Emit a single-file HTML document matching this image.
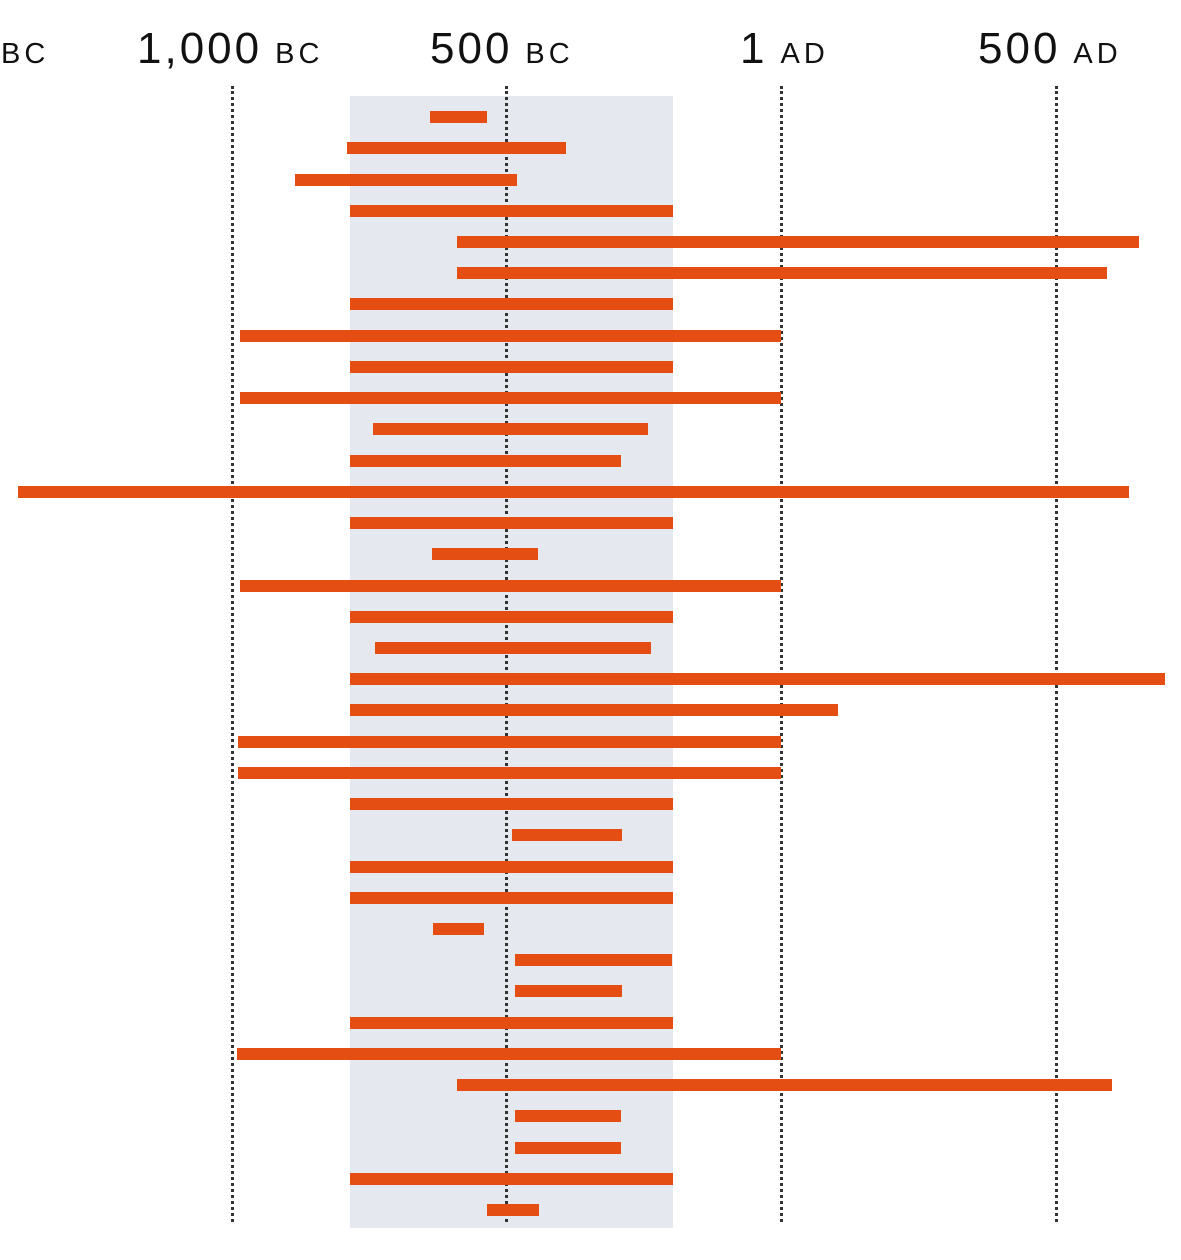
<!DOCTYPE html>
<html><head><meta charset="utf-8"><style>
html,body{margin:0;padding:0;background:#fff;}
body{width:1181px;height:1260px;position:relative;overflow:hidden;font-family:"Liberation Sans",sans-serif;color:#111;}
.lab{position:absolute;top:24px;white-space:nowrap;font-size:44px;line-height:50px;letter-spacing:3px}
.lab span{font-size:29px;letter-spacing:4px;margin-left:13px}
.g{position:absolute;top:86px;height:1136px;width:0;border-left:3px dotted #333;}
.bar{position:absolute;height:12px;background:#e54e12;}
</style></head><body>
<div style="position:absolute;left:350px;top:96px;width:323px;height:1132px;background:#e5e8ee"></div>
<div class="g" style="left:231px"></div>
<div class="g" style="left:505px"></div>
<div class="g" style="left:780px"></div>
<div class="g" style="left:1055px"></div>
<div class="lab" style="left:-12px"><span>BC</span></div>
<div class="lab" style="left:137px">1,000<span>BC</span></div>
<div class="lab" style="left:430px">500<span>BC</span></div>
<div class="lab" style="left:740px">1<span>AD</span></div>
<div class="lab" style="left:978px">500<span>AD</span></div>
<div id="bars"></div>
<script>
var d=[[430,487],[347,566],[295,517],[350,673],[457,1139],[457,1107],[350,673],[240,781],[350,673],[240,781],[373,648],[350,621],[18,1129],[350,673],[432,538],[240,781],[350,673],[375,651],[350,1165],[350,838],[238,781],[238,781],[350,673],[512,622],[350,673],[350,673],[433,484],[515,672],[515,622],[350,673],[237,781],[457,1112],[515,621],[515,621],[350,673],[487,539]];
var h='';d.forEach(function(b,i){var y=117+i*31.23-6;h+='<div class="bar" style="left:'+b[0]+'px;width:'+(b[1]-b[0])+'px;top:'+y.toFixed(1)+'px"></div>';});
document.getElementById('bars').innerHTML=h;
</script>
</body></html>
